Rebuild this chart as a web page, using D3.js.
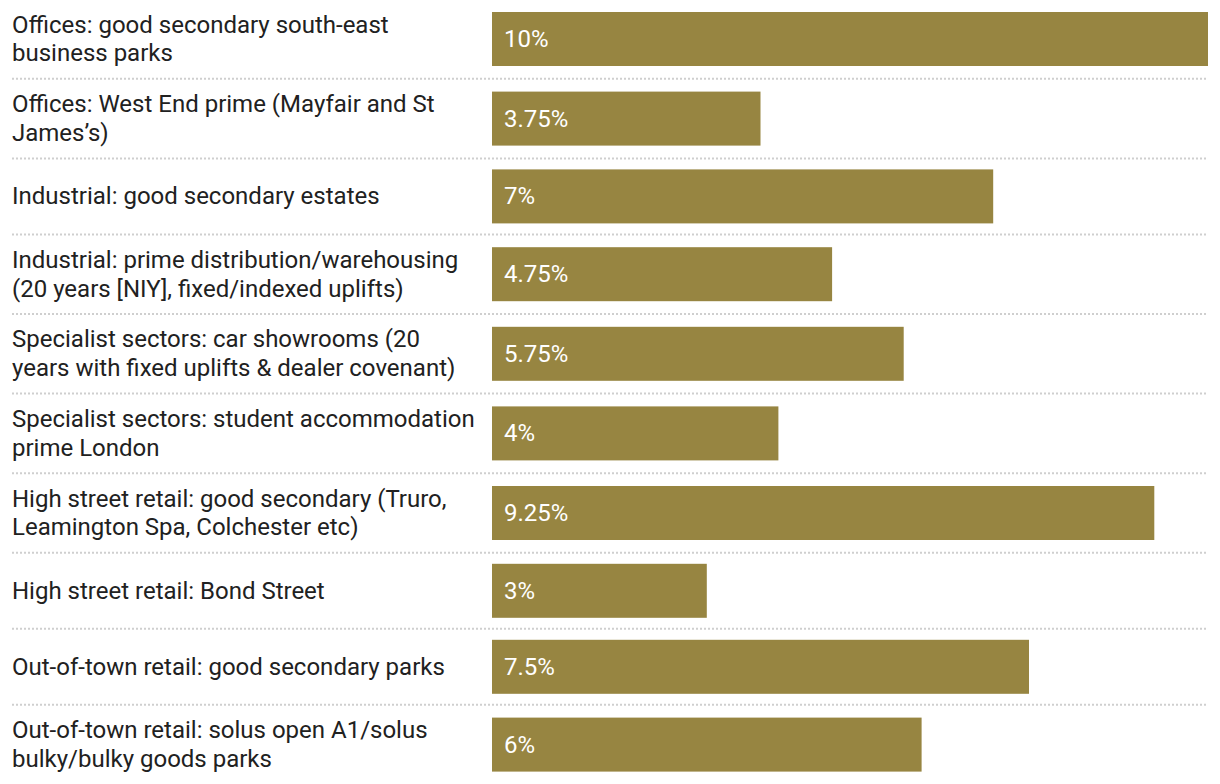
<!DOCTYPE html>
<html>
<head>
<meta charset="utf-8">
<script src="https://cdn.jsdelivr.net/npm/d3@7/dist/d3.min.js"></script>
<style>
  html, body { margin: 0; padding: 0; background: #fff; }
  svg { display: block; font-family: Roboto, "Noto Sans", sans-serif; }
</style>
</head>
<body>
<svg id="chart" width="1220" height="784"></svg>
<script>
const categories = [
  "Offices: good secondary south-east\nbusiness parks",
  "Offices: West End prime (Mayfair and St\nJames\u2019s)",
  "Industrial: good secondary estates",
  "Industrial: prime distribution/warehousing\n(20 years [NIY], fixed/indexed uplifts)",
  "Specialist sectors: car showrooms (20\nyears with fixed uplifts & dealer covenant)",
  "Specialist sectors: student accommodation\nprime London",
  "High street retail: good secondary (Truro,\nLeamington Spa, Colchester etc)",
  "High street retail: Bond Street",
  "Out-of-town retail: good secondary parks",
  "Out-of-town retail: solus open A1/solus\nbulky/bulky goods parks"
];
const values = [10, 3.75, 7, 4.75, 5.75, 4, 9.25, 3, 7.5, 6];
const valueLabels = ["10%", "3.75%", "7%", "4.75%", "5.75%", "4%", "9.25%", "3%", "7.5%", "6%"];

const barColor = "#978541";
const fontSize = 24;
const lineH = fontSize * 1.2, barH = 54, pad = 11;
const svg = d3.select("#chart");

const x = d3.scaleLinear().domain([0, 10]).range([492, 1208]);

// row layout
const rows = categories.map((c, i) => ({ lines: c.split("\n"), value: values[i], label: valueLabels[i] }));
let y0 = -0.8;
rows.forEach(r => {
  r.contentH = Math.max(barH, r.lines.length * lineH);
  r.top = y0;
  r.h = r.contentH + 2 * pad;
  r.mid = y0 + pad + r.contentH / 2;
  y0 += r.h;
});

const g = svg.selectAll("g.row").data(rows).join("g").attr("class", "row");

// separators
g.filter((d, i) => i > 0).append("line")
  .attr("x1", 12).attr("x2", 1208)
  .attr("y1", d => d.top).attr("y2", d => d.top)
  .attr("stroke", "#cfcfcf").attr("stroke-width", 2)
  .attr("stroke-dasharray", "2,2");

// labels
g.append("text")
  .attr("fill", "#212121")
  .attr("font-size", fontSize)
  .each(function(d) {
    const t = d3.select(this);
    const startY = d.mid - (d.lines.length * lineH) / 2 + lineH / 2;
    d.lines.forEach((ln, k) => {
      t.append("tspan").attr("x", 12).attr("y", startY + k * lineH)
        .attr("dominant-baseline", "central").text(ln);
    });
  });

// bars
g.append("rect")
  .attr("x", x(0))
  .attr("y", d => d.mid - barH / 2)
  .attr("width", d => x(d.value) - x(0))
  .attr("height", barH)
  .attr("fill", barColor);

// value labels
g.append("text")
  .attr("x", x(0) + 12)
  .attr("y", d => d.mid)
  .attr("dominant-baseline", "central")
  .attr("fill", "#ffffff")
  .attr("font-size", fontSize)
  .text(d => d.label);
</script>
</body>
</html>
